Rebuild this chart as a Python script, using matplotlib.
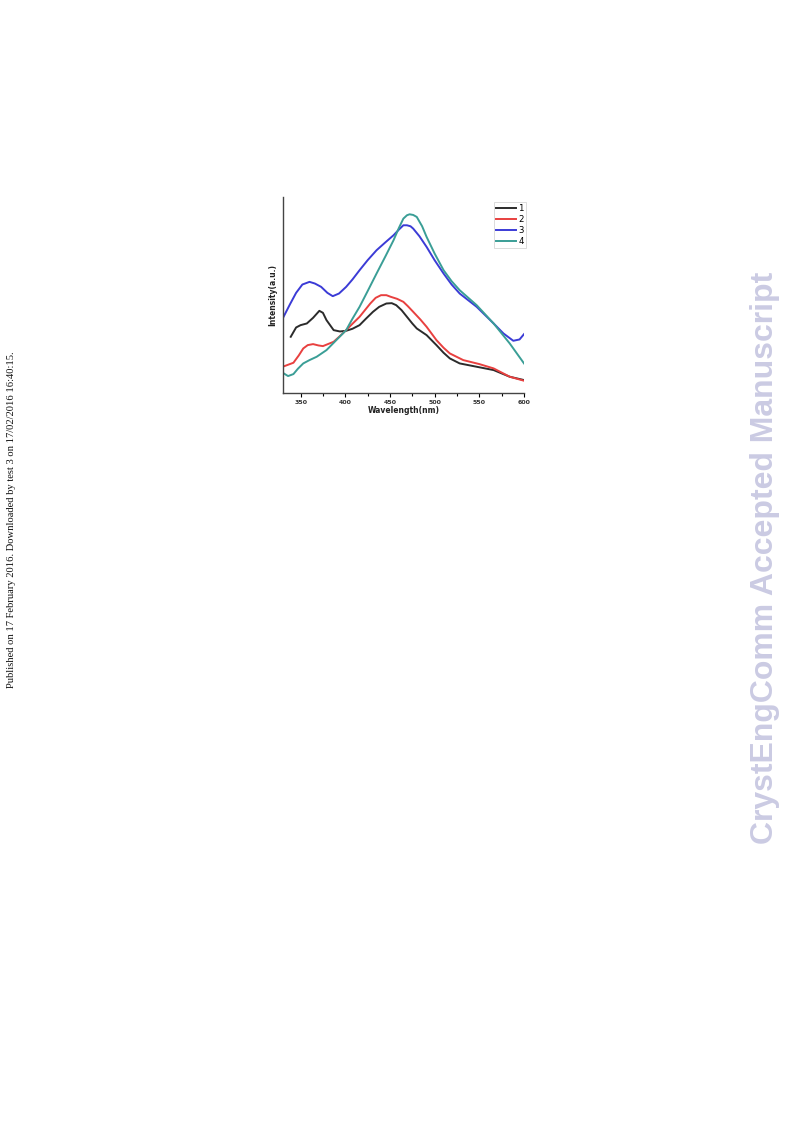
import numpy as np
import matplotlib.pyplot as plt

# wavelength (nm) / intensity (a.u.)
wl_1 = [339, 345, 350, 357, 364, 371, 375, 379, 387, 394, 401, 408, 416, 423, 431, 438, 446, 452, 457, 463, 469, 475, 480, 491, 502, 510, 517, 528, 547, 566, 584, 600]
int_1 = [168, 196, 203, 208, 225, 246, 240, 218, 188, 184, 186, 192, 203, 222, 243, 258, 268, 269, 263, 248, 228, 208, 193, 173, 143, 120, 103, 88, 78, 68, 48, 38]

wl_2 = [330, 342, 348, 353, 358, 364, 370, 375, 387, 394, 401, 408, 416, 428, 434, 440, 446, 451, 458, 465, 470, 476, 484, 491, 502, 510, 517, 532, 550, 566, 584, 600]
int_2 = [78, 90, 112, 133, 143, 146, 142, 140, 153, 170, 188, 207, 228, 268, 285, 293, 293, 288, 282, 273, 260, 243, 220, 198, 158, 135, 118, 98, 86, 73, 48, 36]

wl_3 = [330, 338, 345, 352, 360, 366, 373, 380, 386, 393, 401, 408, 416, 425, 435, 445, 454, 460, 465, 469, 473, 476, 483, 491, 500, 510, 519, 528, 547, 566, 577, 588, 595, 600]
int_3 = [223, 265, 300, 325, 333, 328, 318, 300, 290, 298, 318, 340, 368, 398, 428, 452, 473, 490, 503, 503, 500, 493, 470, 438, 398, 358, 325, 298, 258, 208, 178, 156, 160, 176]

wl_4 = [330, 336, 342, 347, 353, 360, 368, 379, 390, 401, 408, 416, 425, 435, 445, 454, 460, 465, 469, 472, 476, 480, 486, 491, 500, 510, 519, 528, 547, 566, 584, 600]
int_4 = [60, 50, 56, 72, 88, 98, 108, 128, 158, 188, 222, 258, 305, 358, 410, 458, 495, 523, 533, 536, 534, 528, 500, 468, 418, 368, 335, 308, 263, 208, 148, 88]

labels = ['1', '2', '3', '4']
colors = ['#2b2b2b', '#e8403f', '#3b3bd6', '#3a9e96']

fig = plt.figure(figsize=(7.93, 11.23), dpi=100)
ax = fig.add_axes([0.3565, 0.6503, 0.3043, 0.1743])

for wl, inten, lab, col in zip([wl_1, wl_2, wl_3, wl_4], [int_1, int_2, int_3, int_4], labels, colors):
    ax.plot(wl, inten, color=col, linewidth=1.4, label=lab, solid_joinstyle='round')

ax.set_xlim(330, 600)
ax.set_ylim(0, 588)
ax.set_xticks([350, 400, 450, 500, 550, 600])
ax.set_xticks([375, 425, 475, 525, 575], minor=True)
ax.set_yticks([])
ax.tick_params(axis='x', which='major', length=3, width=0.8, labelsize=4.5, pad=2)
ax.tick_params(axis='x', which='minor', length=2, width=0.8)
for t in ax.get_xticklabels():
    t.set_fontweight('bold')
    t.set_color('#333333')
for s in ['top', 'right']:
    ax.spines[s].set_visible(False)
for s in ['left', 'bottom']:
    ax.spines[s].set_color('#444444')
    ax.spines[s].set_linewidth(1.0)

ax.set_xlabel('Wavelength(nm)', fontsize=5.5, fontweight='bold', labelpad=1, color='#222222')
ax.set_ylabel('Intensity(a.u.)', fontsize=5.5, fontweight='bold', labelpad=4, color='#222222')

leg = ax.legend(loc='upper right', bbox_to_anchor=(1.025, 0.995), fontsize=6.2, frameon=True,
                fancybox=False, handlelength=2.3, handletextpad=0.3, labelspacing=0.2,
                borderpad=0.25, edgecolor='#cccccc')
leg.get_frame().set_linewidth(0.6)

fig.text(0.965, 0.5036, 'CrystEngComm Accepted Manuscript', rotation=90, ha='center', va='center',
         fontsize=23, fontweight='bold', color='#cbcbe3', family='Liberation Sans')
fig.text(0.015, 0.537, 'Published on 17 February 2016. Downloaded by test 3 on 17/02/2016 16:40:15.',
         rotation=90, ha='center', va='center', fontsize=7.6, color='#111111', family='Liberation Serif')

fig.savefig('out.png', dpi=100)
